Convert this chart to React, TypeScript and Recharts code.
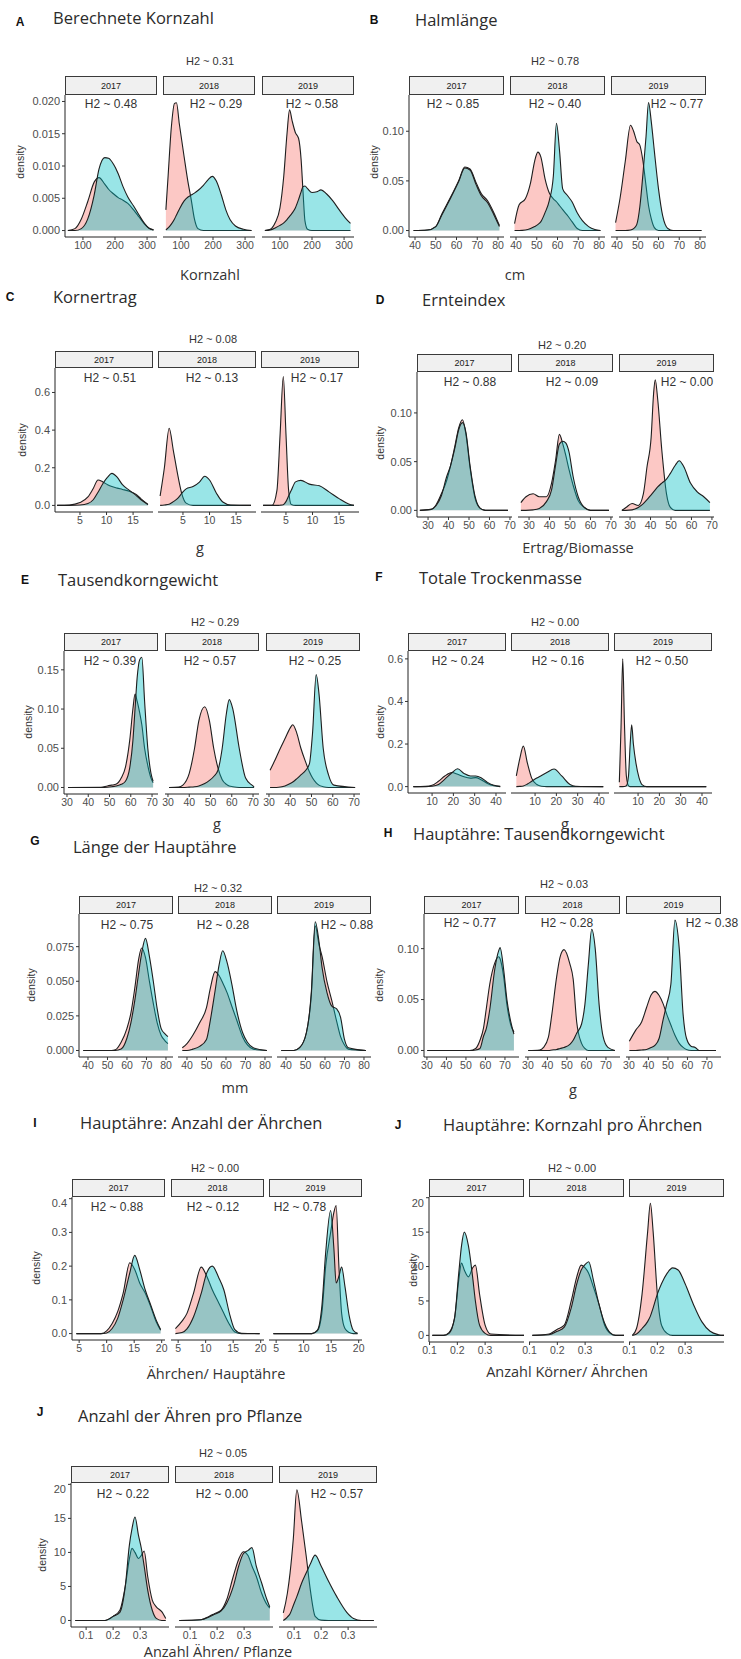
import React from "react";
import { AreaChart, Area, XAxis, YAxis } from "recharts";

// each row: [x, pink density, cyan density]
type Row = [number, number, number];

const YEARS = ["2017", "2018", "2019"];

// A – Berechnete Kornzahl
const A_2017: Row[] = [
  [53, 0, 0], [75, 0.0003, 0], [95, 0.0018, 0.0003], [115, 0.0045, 0.0018], [135, 0.0075, 0.0055],
  [150, 0.0082, 0.0095], [168, 0.0072, 0.0113], [180, 0.0064, 0.0112], [195, 0.0057, 0.0103],
  [210, 0.0051, 0.0088], [225, 0.0047, 0.0068], [240, 0.0042, 0.0052], [258, 0.0032, 0.0038],
  [275, 0.0021, 0.0024], [292, 0.001, 0.0011], [305, 0.0004, 0.0004], [320, 0.0001, 0.0001],
];
const A_2018: Row[] = [
  [53, 0.0032, 0.0001], [60, 0.0085, 0.0004], [70, 0.016, 0.001], [80, 0.0197, 0.0018], [86, 0.0198, 0.0024],
  [95, 0.0165, 0.0033], [110, 0.0114, 0.0046], [122, 0.0075, 0.0052], [132, 0.0048, 0.0055],
  [142, 0.0018, 0.0058], [153, 0.0003, 0.0062], [170, 0, 0.007], [185, 0, 0.0079], [198, 0, 0.0084],
  [210, 0, 0.0077], [226, 0, 0.0055], [240, 0, 0.0032], [253, 0, 0.0017], [270, 0, 0.0007],
  [295, 0, 0.0002], [320, 0, 0],
];
const A_2019: Row[] = [
  [53, 0, 0], [70, 0.0002, 0.0001], [85, 0.0012, 0.0004], [100, 0.0035, 0.0008], [112, 0.0085, 0.0012],
  [122, 0.015, 0.0017], [130, 0.0187, 0.0022], [138, 0.017, 0.0027], [148, 0.0152, 0.0035],
  [158, 0.0143, 0.0048], [166, 0.011, 0.006], [172, 0.006, 0.0068], [178, 0.0015, 0.0069],
  [186, 0.0002, 0.0065], [200, 0, 0.0059], [215, 0, 0.006], [228, 0, 0.0063], [245, 0, 0.0057],
  [265, 0, 0.0046], [285, 0, 0.0032], [305, 0, 0.0019], [320, 0, 0.0011],
];

// B – Halmlänge
const B_2017: Row[] = [
  [39.3, 0, 0], [46, 0.0005, 0.0005], [50, 0.004, 0.004], [53, 0.017, 0.016], [57, 0.033, 0.032],
  [61, 0.05, 0.049], [64, 0.064, 0.063], [66.5, 0.062, 0.061], [69.5, 0.048, 0.046], [72, 0.037, 0.035],
  [75, 0.03, 0.028], [78, 0.018, 0.016], [80.7, 0.005, 0.004],
];
const B_2018: Row[] = [
  [39.3, 0.007, 0], [41.5, 0.026, 0], [44.5, 0.032, 0.0005], [47, 0.048, 0.002], [49, 0.07, 0.004],
  [50.5, 0.079, 0.006], [52, 0.074, 0.009], [54, 0.052, 0.018], [56, 0.038, 0.03], [58, 0.032, 0.055],
  [59.5, 0.029, 0.108], [61, 0.025, 0.08], [62.5, 0.021, 0.042], [64.5, 0.016, 0.036], [67, 0.009, 0.029],
  [69.5, 0.002, 0.018], [72, 0, 0.01], [75, 0, 0.004], [78, 0, 0.001], [80.7, 0, 0],
];
const B_2019: Row[] = [
  [39.3, 0.008, 0], [41.5, 0.033, 0], [44, 0.07, 0], [46.5, 0.106, 0.0005], [48, 0.1, 0.002],
  [49.5, 0.09, 0.006], [51, 0.086, 0.024], [52.5, 0.07, 0.057], [54, 0.045, 0.095], [55.2, 0.025, 0.129],
  [56.5, 0.012, 0.11], [58, 0.003, 0.08], [60, 0, 0.042], [62, 0, 0.015], [64.5, 0, 0.002],
  [67, 0, 0], [80.7, 0, 0],
];

// C – Kornertrag
const C_2017: Row[] = [
  [0.7, 0, 0], [3, 0.002, 0], [5, 0.015, 0.002], [6.5, 0.045, 0.01], [7.5, 0.09, 0.03], [8.4, 0.135, 0.07],
  [9.3, 0.125, 0.115], [10.2, 0.11, 0.15], [11, 0.1, 0.17], [12, 0.092, 0.15], [13, 0.085, 0.11],
  [14.3, 0.075, 0.08], [15.5, 0.06, 0.055], [16.5, 0.035, 0.03], [17.8, 0.005, 0.005],
];
const C_2018: Row[] = [
  [0.7, 0.05, 0], [1.5, 0.2, 0.002], [2.4, 0.41, 0.006], [3.2, 0.29, 0.02], [4.1, 0.15, 0.04],
  [4.8, 0.06, 0.065], [5.6, 0.012, 0.088], [6.9, 0, 0.1], [8.1, 0, 0.124], [9.1, 0, 0.155],
  [10, 0, 0.135], [11.3, 0, 0.065], [12.5, 0, 0.018], [14, 0, 0.002], [17.8, 0, 0],
];
const C_2019: Row[] = [
  [0.7, 0, 0], [2.4, 0.001, 0], [3.3, 0.08, 0], [3.9, 0.38, 0.001], [4.5, 0.685, 0.004], [5.0, 0.38, 0.02],
  [5.5, 0.08, 0.05], [6.0, 0.005, 0.08], [6.8, 0, 0.125], [7.8, 0, 0.133], [9.4, 0, 0.113],
  [11.3, 0, 0.104], [13.1, 0, 0.072], [15, 0, 0.036], [16.8, 0, 0.008], [17.8, 0, 0.001],
];

// D – Ernteindex
const D_2017: Row[] = [
  [26, 0, 0], [31.5, 0.001, 0.001], [34, 0.006, 0.005], [36.5, 0.017, 0.015], [39, 0.03, 0.034],
  [41, 0.046, 0.046], [43, 0.065, 0.063], [45, 0.085, 0.083], [46.8, 0.093, 0.09], [48.5, 0.078, 0.08],
  [50.5, 0.044, 0.046], [53, 0.012, 0.014], [55.5, 0.002, 0.002], [58, 0, 0], [69, 0, 0],
];
const D_2018: Row[] = [
  [26, 0.008, 0], [28.5, 0.014, 0], [32, 0.017, 0.0005], [35, 0.014, 0.002], [38.5, 0.014, 0.009],
  [41, 0.028, 0.021], [43, 0.052, 0.047], [44.8, 0.078, 0.068], [46.5, 0.068, 0.071], [48, 0.056, 0.069],
  [49.5, 0.042, 0.06], [51.5, 0.026, 0.035], [54, 0.01, 0.014], [57, 0.003, 0.003], [60, 0, 0], [69, 0, 0],
];
const D_2019: Row[] = [
  [26, 0, 0], [28, 0.003, 0], [31, 0.007, 0.0005], [34, 0.005, 0.003], [36.5, 0.017, 0.007],
  [38.3, 0.045, 0.011], [40.3, 0.075, 0.016], [41.5, 0.12, 0.019], [42.3, 0.134, 0.021],
  [43.5, 0.114, 0.024], [45.5, 0.062, 0.028], [47.8, 0.017, 0.032], [49.7, 0.003, 0.038],
  [52, 0, 0.046], [54, 0, 0.051], [56.2, 0, 0.045], [59.5, 0, 0.028], [62.8, 0, 0.019],
  [66, 0, 0.014], [69, 0, 0.008],
];

// E – Tausendkorngewicht
const E_2017: Row[] = [
  [30.5, 0, 0], [46, 0.0003, 0], [49, 0.002, 0.0003], [51, 0.003, 0.001], [53, 0.004, 0.002],
  [55.5, 0.012, 0.004], [57.5, 0.026, 0.008], [59.5, 0.06, 0.025], [61, 0.1, 0.06], [62, 0.119, 0.1],
  [63, 0.11, 0.14], [64.2, 0.095, 0.163], [65.2, 0.08, 0.166], [66.5, 0.05, 0.11], [68, 0.028, 0.05],
  [69.5, 0.012, 0.018], [70.5, 0.006, 0.008],
];
const E_2018: Row[] = [
  [30.5, 0, 0], [35, 0.0005, 0], [37, 0.003, 0], [40, 0.018, 0.0005], [42.5, 0.05, 0.001],
  [44.5, 0.085, 0.002], [47.3, 0.103, 0.005], [49.5, 0.085, 0.009], [51.5, 0.05, 0.014],
  [53.5, 0.025, 0.022], [55.5, 0.01, 0.05], [57.5, 0.004, 0.095], [58.8, 0.002, 0.112],
  [60.5, 0.001, 0.1], [63.5, 0, 0.05], [66.5, 0, 0.012], [69.5, 0, 0.003], [70.5, 0, 0.001],
];
const E_2019: Row[] = [
  [30.5, 0.022, 0], [32.5, 0.033, 0], [34.5, 0.045, 0.0003], [37.5, 0.062, 0.002], [40, 0.076, 0.005],
  [41.2, 0.08, 0.007], [43, 0.07, 0.011], [45, 0.05, 0.016], [47.3, 0.032, 0.022], [49, 0.02, 0.03],
  [50.5, 0.012, 0.07], [52.2, 0.006, 0.144], [53.5, 0.003, 0.12], [55.5, 0.001, 0.05], [58, 0, 0.016],
  [60.5, 0, 0.003], [70.5, 0, 0],
];

// F – Totale Trockenmasse
const F_2017: Row[] = [
  [1.2, 0, 0], [7, 0.001, 0], [10, 0.006, 0.002], [13, 0.025, 0.01], [16, 0.05, 0.035], [19.3, 0.066, 0.065],
  [22, 0.058, 0.084], [25, 0.046, 0.062], [28, 0.04, 0.05], [30.5, 0.042, 0.05], [33, 0.032, 0.042],
  [36, 0.015, 0.02], [39, 0.004, 0.006], [42, 0, 0.001],
];
const F_2018: Row[] = [
  [1.2, 0.05, 0], [2.8, 0.13, 0.001], [4.5, 0.19, 0.003], [6.4, 0.11, 0.012], [8.4, 0.04, 0.025],
  [10.8, 0.01, 0.04], [13, 0.002, 0.052], [15.5, 0, 0.066], [18.9, 0, 0.083], [22.5, 0, 0.05],
  [26.4, 0, 0.01], [29, 0, 0.002], [42, 0, 0],
];
const F_2019: Row[] = [
  [1.2, 0.02, 0], [2, 0.28, 0], [2.8, 0.6, 0], [3.6, 0.3, 0.0005], [4.5, 0.05, 0.004], [5.5, 0.005, 0.05],
  [6.3, 0, 0.2], [7, 0, 0.29], [7.8, 0, 0.2], [9, 0, 0.11], [10.5, 0, 0.04], [12, 0, 0.008],
  [14, 0, 0], [42, 0, 0],
];

// G – Länge der Hauptähre
const G_2017: Row[] = [
  [37.6, 0, 0], [52, 0, 0], [54, 0.0005, 0], [57, 0.006, 0.001], [60, 0.016, 0.009], [62, 0.027, 0.02],
  [64, 0.045, 0.036], [66, 0.066, 0.056], [67.5, 0.074, 0.07], [69.5, 0.067, 0.081], [71.5, 0.05, 0.068],
  [73.5, 0.034, 0.05], [75.5, 0.02, 0.03], [77.5, 0.011, 0.016], [79.5, 0.007, 0.012], [81, 0.005, 0.01],
];
const G_2018: Row[] = [
  [37.6, 0.002, 0], [40, 0.005, 0], [43, 0.011, 0.001], [46.5, 0.02, 0.003], [50, 0.031, 0.008],
  [52, 0.045, 0.022], [54.4, 0.057, 0.043], [56.5, 0.054, 0.062], [58.3, 0.049, 0.072],
  [60.5, 0.042, 0.064], [63, 0.032, 0.048], [65.5, 0.022, 0.029], [68.5, 0.01, 0.013],
  [71, 0.004, 0.006], [74, 0.001, 0.002], [81, 0, 0],
];
const G_2019: Row[] = [
  [37.6, 0, 0], [44, 0, 0], [47, 0.002, 0.002], [50.5, 0.013, 0.013], [53, 0.04, 0.042], [55, 0.09, 0.093],
  [57, 0.076, 0.078], [58.5, 0.068, 0.06], [61, 0.05, 0.042], [63.5, 0.036, 0.032], [66, 0.021, 0.03],
  [68, 0.01, 0.024], [70, 0.004, 0.008], [72, 0.001, 0.002], [81, 0, 0],
];

// H – Hauptähre: Tausendkorngewicht
const H_2017: Row[] = [
  [30.2, 0, 0], [52, 0, 0], [55, 0.002, 0.0005], [57.2, 0.01, 0.002], [59, 0.022, 0.014],
  [60.5, 0.042, 0.022], [62.2, 0.065, 0.04], [64.8, 0.086, 0.08], [66.8, 0.092, 0.098],
  [67.5, 0.09, 0.101], [69.3, 0.073, 0.08], [71, 0.045, 0.05], [73, 0.025, 0.028], [74.6, 0.018, 0.016],
];
const H_2018: Row[] = [
  [30.2, 0, 0], [36, 0.0005, 0], [38, 0.003, 0], [40.5, 0.013, 0], [42.3, 0.036, 0.0005],
  [44.7, 0.072, 0.001], [46.5, 0.092, 0.002], [48.5, 0.099, 0.003], [51.5, 0.085, 0.006],
  [53.2, 0.07, 0.01], [55, 0.028, 0.017], [57.5, 0.007, 0.026], [59.2, 0.002, 0.045], [61, 0, 0.085],
  [62.7, 0, 0.119], [64.5, 0, 0.1], [66.5, 0, 0.045], [68.5, 0, 0.014], [71, 0, 0.003], [74.6, 0, 0],
];
const H_2019: Row[] = [
  [30.2, 0.009, 0], [33.5, 0.02, 0], [36.5, 0.028, 0.0005], [39, 0.042, 0.001], [41.5, 0.055, 0.003],
  [43.3, 0.058, 0.005], [45.5, 0.054, 0.012], [47.5, 0.046, 0.03], [49.3, 0.036, 0.045],
  [51.5, 0.025, 0.065], [53.6, 0.015, 0.128], [55.8, 0.007, 0.1], [57.8, 0.003, 0.035],
  [59.5, 0.001, 0.012], [62, 0, 0.004], [64, 0, 0.003], [66, 0, 0], [74.6, 0, 0],
];

// I – Hauptähre: Anzahl der Ährchen
const I_2017: Row[] = [
  [4.5, 0, 0], [9, 0, 0], [10, 0.008, 0.002], [11, 0.03, 0.015], [12, 0.065, 0.045], [13, 0.12, 0.1],
  [14.2, 0.21, 0.18], [15.1, 0.19, 0.232], [16, 0.15, 0.19], [17, 0.12, 0.13], [18, 0.08, 0.085],
  [19, 0.035, 0.04], [19.8, 0.01, 0.012],
];
const I_2018: Row[] = [
  [4.5, 0.015, 0], [5.7, 0.037, 0.003], [6.6, 0.06, 0.014], [7.8, 0.12, 0.05], [9.2, 0.197, 0.12],
  [10.2, 0.17, 0.18], [11.2, 0.13, 0.2], [12.4, 0.09, 0.165], [13.3, 0.06, 0.13], [14.4, 0.025, 0.055],
  [15.3, 0.005, 0.012], [16.5, 0, 0.001], [19.8, 0, 0],
];
const I_2019: Row[] = [
  [4.5, 0, 0], [11.5, 0, 0], [12.5, 0.008, 0.01], [13.3, 0.06, 0.08], [14, 0.2, 0.24], [14.9, 0.3, 0.365],
  [15.5, 0.36, 0.25], [15.9, 0.38, 0.15], [16.4, 0.2, 0.17], [16.9, 0.06, 0.197], [17.5, 0.015, 0.14],
  [18.3, 0.003, 0.05], [19, 0, 0.01], [19.8, 0, 0.001],
];

// J – Hauptähre: Kornzahl pro Ährchen
const J1_2017: Row[] = [
  [0.11, 0, 0], [0.15, 0, 0], [0.17, 0.4, 0.3], [0.19, 2.5, 2.5], [0.205, 8, 9], [0.215, 10.5, 13],
  [0.225, 9.5, 15], [0.24, 8.5, 13], [0.255, 9.8, 8.5], [0.265, 10.2, 5], [0.28, 6, 1.5],
  [0.3, 1.5, 0.3], [0.32, 0.2, 0], [0.44, 0, 0],
];
const J1_2018: Row[] = [
  [0.11, 0, 0], [0.17, 0.2, 0.1], [0.2, 0.9, 0.6], [0.225, 1.5, 1.2], [0.25, 5, 4], [0.27, 8.5, 7.5],
  [0.286, 10.2, 9.5], [0.3, 9.8, 10.3], [0.313, 9, 10.7], [0.33, 7, 8], [0.35, 4.5, 4.5],
  [0.37, 1.5, 1.8], [0.39, 0.3, 0.4], [0.41, 0, 0], [0.44, 0, 0],
];
const J1_2019: Row[] = [
  [0.11, 0, 0], [0.125, 1, 0.2], [0.145, 6, 1], [0.165, 15, 2], [0.175, 19.2, 2.8], [0.185, 15, 4],
  [0.2, 6, 6], [0.215, 1.5, 7.5], [0.235, 0.3, 9], [0.255, 0, 9.8], [0.275, 0, 9.5], [0.3, 0, 7.5],
  [0.33, 0, 4.5], [0.36, 0, 2], [0.39, 0, 0.6], [0.42, 0, 0.1], [0.44, 0, 0],
];

// J – Anzahl der Ähren pro Pflanze
const J2_2017: Row[] = [
  [0.06, 0, 0], [0.17, 0, 0], [0.2, 0.6, 0.6], [0.225, 1.5, 1.2], [0.245, 5, 5], [0.26, 9, 11],
  [0.27, 10.6, 13.5], [0.281, 10, 15.2], [0.294, 9.1, 12.5], [0.305, 9.6, 10.5], [0.315, 10.2, 8],
  [0.328, 6.5, 4.5], [0.345, 3, 1.5], [0.36, 2, 0.3], [0.38, 1.3, 0], [0.395, 0.3, 0],
];
const J2_2018: Row[] = [
  [0.06, 0, 0], [0.14, 0.1, 0.1], [0.17, 0.6, 0.5], [0.19, 1, 0.9], [0.215, 1.5, 1.4], [0.235, 3, 2.5],
  [0.26, 6.5, 5], [0.28, 9, 8], [0.297, 10.1, 9.8], [0.315, 9.5, 10.3], [0.329, 8, 10.7],
  [0.345, 6.5, 8], [0.365, 4, 5.5], [0.385, 2.3, 3], [0.395, 1.8, 2],
];
const J2_2019: Row[] = [
  [0.06, 1.1, 0], [0.075, 4, 0.5], [0.085, 7, 1], [0.097, 12, 2.2], [0.11, 19.2, 3.5], [0.128, 14.5, 5.5],
  [0.145, 9.4, 7], [0.16, 4.5, 8.3], [0.178, 0.6, 9.6], [0.2, 0.05, 8], [0.227, 0, 5.8],
  [0.258, 0, 3.5], [0.295, 0, 1.2], [0.32, 0, 0.3], [0.35, 0, 0], [0.395, 0, 0],
];

const SANS = "'Liberation Sans', Arial, sans-serif";
const TITLE_FONT = "'Open Sans', sans-serif";

interface Panel {
  letter: string; letterAt: [number, number];
  title: string; titleAt: [number, number];
  h2: string; h2At: [number, number];
  strip: [number, number];
  lefts: number[]; w: number; axisY: number;
  xDomain: [number, number]; xTicks: number[];
  yDomain: [number, number]; yTicks: number[]; yDigits: number;
  densityAt: [number, number];
  facetH2: string[]; facetH2X: number[]; facetH2Y: number;
  xTitle: string; xTitleAt: [number, number];
  data: Row[][];
}

const PANELS: Panel[] = [
  {
    letter: "A", letterAt: [20, 22], title: "Berechnete Kornzahl", titleAt: [53, 18],
    h2: "H2 ~ 0.31", h2At: [210, 61], strip: [76, 95], lefts: [65, 163, 262], w: 92, axisY: 237,
    xDomain: [44, 331], xTicks: [100, 200, 300], yDomain: [-0.001, 0.021],
    yTicks: [0, 0.005, 0.01, 0.015, 0.02], yDigits: 3, densityAt: [20, 162],
    facetH2: ["H2 ~ 0.48", "H2 ~ 0.29", "H2 ~ 0.58"], facetH2X: [111, 216, 312], facetH2Y: 104,
    xTitle: "Kornzahl", xTitleAt: [210, 275], data: [A_2017, A_2018, A_2019],
  },
  {
    letter: "B", letterAt: [374, 20], title: "Halmlänge", titleAt: [415, 20],
    h2: "H2 ~ 0.78", h2At: [555, 61], strip: [76, 95], lefts: [409, 510, 611], w: 95, axisY: 237,
    xDomain: [37.1, 82.9], xTicks: [40, 50, 60, 70, 80], yDomain: [-0.0065, 0.1365],
    yTicks: [0, 0.05, 0.1], yDigits: 2, densityAt: [374, 162],
    facetH2: ["H2 ~ 0.85", "H2 ~ 0.40", "H2 ~ 0.77"], facetH2X: [453, 555, 677], facetH2Y: 104,
    xTitle: "cm", xTitleAt: [515, 275], data: [B_2017, B_2018, B_2019],
  },
  {
    letter: "C", letterAt: [10, 297], title: "Kornertrag", titleAt: [53, 297],
    h2: "H2 ~ 0.08", h2At: [213, 339], strip: [351, 368], lefts: [55, 158, 261], w: 98, axisY: 512,
    xDomain: [0.3, 18.75], xTicks: [5, 10, 15], yDomain: [-0.035, 0.73],
    yTicks: [0, 0.2, 0.4, 0.6], yDigits: 1, densityAt: [22, 440],
    facetH2: ["H2 ~ 0.51", "H2 ~ 0.13", "H2 ~ 0.17"], facetH2X: [110, 212, 317], facetH2Y: 378,
    xTitle: "g", xTitleAt: [200, 548], data: [C_2017, C_2018, C_2019],
  },
  {
    letter: "D", letterAt: [380, 300], title: "Ernteindex", titleAt: [422, 300],
    h2: "H2 ~ 0.20", h2At: [562, 345], strip: [354, 372], lefts: [417, 518, 619], w: 95, axisY: 517,
    xDomain: [24.6, 71], xTicks: [30, 40, 50, 60, 70], yDomain: [-0.0068, 0.142],
    yTicks: [0, 0.05, 0.1], yDigits: 2, densityAt: [380, 443],
    facetH2: ["H2 ~ 0.88", "H2 ~ 0.09", "H2 ~ 0.00"], facetH2X: [470, 572, 687], facetH2Y: 382,
    xTitle: "Ertrag/Biomasse", xTitleAt: [578, 548], data: [D_2017, D_2018, D_2019],
  },
  {
    letter: "E", letterAt: [25, 580], title: "Tausendkorngewicht", titleAt: [58, 580],
    h2: "H2 ~ 0.29", h2At: [215, 622], strip: [633, 651], lefts: [64, 165, 266], w: 94, axisY: 794,
    xDomain: [28.6, 72.8], xTicks: [30, 40, 50, 60, 70], yDomain: [-0.0083, 0.174],
    yTicks: [0, 0.05, 0.1, 0.15], yDigits: 2, densityAt: [28, 722],
    facetH2: ["H2 ~ 0.39", "H2 ~ 0.57", "H2 ~ 0.25"], facetH2X: [110, 210, 315], facetH2Y: 661,
    xTitle: "g", xTitleAt: [217, 824], data: [E_2017, E_2018, E_2019],
  },
  {
    letter: "F", letterAt: [379, 577], title: "Totale Trockenmasse", titleAt: [419, 578],
    h2: "H2 ~ 0.00", h2At: [555, 622], strip: [633, 651], lefts: [408, 511, 614], w: 98, axisY: 793,
    xDomain: [-1.3, 44.7], xTicks: [10, 20, 30, 40], yDomain: [-0.03, 0.637],
    yTicks: [0, 0.2, 0.4, 0.6], yDigits: 1, densityAt: [380, 722],
    facetH2: ["H2 ~ 0.24", "H2 ~ 0.16", "H2 ~ 0.50"], facetH2X: [458, 558, 662], facetH2Y: 661,
    xTitle: "g", xTitleAt: [565, 824], data: [F_2017, F_2018, F_2019],
  },
  {
    letter: "G", letterAt: [35, 841], title: "Länge der Hauptähre", titleAt: [73, 847],
    h2: "H2 ~ 0.32", h2At: [218, 888], strip: [896, 914], lefts: [79, 178, 277], w: 94, axisY: 1057,
    xDomain: [35.4, 83.6], xTicks: [40, 50, 60, 70, 80], yDomain: [-0.0047, 0.0986],
    yTicks: [0, 0.025, 0.05, 0.075], yDigits: 3, densityAt: [31, 985],
    facetH2: ["H2 ~ 0.75", "H2 ~ 0.28", "H2 ~ 0.88"], facetH2X: [127, 223, 347], facetH2Y: 925,
    xTitle: "mm", xTitleAt: [235, 1088], data: [G_2017, G_2018, G_2019],
  },
  {
    letter: "H", letterAt: [388, 833], title: "Hauptähre: Tausendkorngewicht", titleAt: [413, 834],
    h2: "H2 ~ 0.03", h2At: [564, 884], strip: [896, 914], lefts: [424, 525, 626], w: 95, axisY: 1057,
    xDomain: [28.5, 77.2], xTicks: [30, 40, 50, 60, 70], yDomain: [-0.0064, 0.134],
    yTicks: [0, 0.05, 0.1], yDigits: 2, densityAt: [379, 985],
    facetH2: ["H2 ~ 0.77", "H2 ~ 0.28", "H2 ~ 0.38"], facetH2X: [470, 567, 712], facetH2Y: 923,
    xTitle: "g", xTitleAt: [573, 1090], data: [H_2017, H_2018, H_2019],
  },
  {
    letter: "I", letterAt: [35, 1123], title: "Hauptähre: Anzahl der Ährchen", titleAt: [80, 1123],
    h2: "H2 ~ 0.00", h2At: [215, 1168], strip: [1179, 1197], lefts: [72, 171, 269], w: 93, axisY: 1340,
    xDomain: [3.7, 20.6], xTicks: [5, 10, 15, 20], yDomain: [-0.019, 0.405],
    yTicks: [0, 0.1, 0.2, 0.3, 0.4], yDigits: 1, densityAt: [36, 1268],
    facetH2: ["H2 ~ 0.88", "H2 ~ 0.12", "H2 ~ 0.78"], facetH2X: [117, 213, 300], facetH2Y: 1207,
    xTitle: "Ährchen/ Hauptähre", xTitleAt: [216, 1374], data: [I_2017, I_2018, I_2019],
  },
  {
    letter: "J", letterAt: [398, 1125], title: "Hauptähre: Kornzahl pro Ährchen", titleAt: [443, 1125],
    h2: "H2 ~ 0.00", h2At: [572, 1168], strip: [1179, 1197], lefts: [429, 529, 629], w: 95, axisY: 1342,
    xDomain: [0.098, 0.44], xTicks: [0.1, 0.2, 0.3], yDomain: [-0.96, 20.1],
    yTicks: [0, 5, 10, 15, 20], yDigits: 0, densityAt: [413, 1270],
    facetH2: [], facetH2X: [], facetH2Y: 0,
    xTitle: "Anzahl Körner/ Ährchen", xTitleAt: [567, 1372], data: [J1_2017, J1_2018, J1_2019],
  },
  {
    letter: "J", letterAt: [40, 1412], title: "Anzahl der Ähren pro Pflanze", titleAt: [78, 1416],
    h2: "H2 ~ 0.05", h2At: [223, 1453], strip: [1466, 1483], lefts: [71, 175, 279], w: 98, axisY: 1627,
    xDomain: [0.044, 0.407], xTicks: [0.1, 0.2, 0.3], yDomain: [-0.96, 20.2],
    yTicks: [0, 5, 10, 15, 20], yDigits: 0, densityAt: [42, 1555],
    facetH2: ["H2 ~ 0.22", "H2 ~ 0.00", "H2 ~ 0.57"], facetH2X: [123, 222, 337], facetH2Y: 1494,
    xTitle: "Anzahl Ähren/ Pflanze", xTitleAt: [218, 1652], data: [J2_2017, J2_2018, J2_2019],
  },
];

function Txt({ x, y, children, size, family = SANS, color = "#333", weight = 400, anchor = "middle", rotate = false }: any) {
  const tx = anchor === "middle" ? "-50%" : "0";
  return (
    <div style={{
      position: "absolute", left: x, top: y, whiteSpace: "nowrap", lineHeight: 1,
      transform: `translate(${rotate ? "-50%" : tx}, -50%)${rotate ? " rotate(-90deg)" : ""}`,
      fontSize: size, fontFamily: family, color, fontWeight: weight,
    }}>{children}</div>
  );
}

function Facet({ p, i }: { p: Panel; i: number }) {
  const first = i === 0;
  const padL = first ? 44 : 14;
  const padR = 14;
  const plotH = p.axisY - p.strip[1];
  const rows = p.data[i].map(([x, pink, cyan]) => ({ x, pink, cyan }));
  const tickStyle = { fontSize: 10.5, fill: "#4D4D4D", fontFamily: SANS };
  return (
    <div style={{ position: "absolute", left: p.lefts[i] - padL, top: p.strip[1] }}>
      <AreaChart width={p.w + padL + padR} height={plotH + 22} data={rows}
        margin={{ top: 0, right: padR, bottom: 0, left: first ? 0 : padL }}>
        <XAxis type="number" dataKey="x" domain={p.xDomain} ticks={p.xTicks} allowDataOverflow interval={0}
          height={22} tickSize={3} axisLine={{ stroke: "#222" }} tickLine={{ stroke: "#333" }} tick={tickStyle} />
        <YAxis type="number" domain={p.yDomain} ticks={p.yTicks} allowDataOverflow hide={!first} width={padL}
          tickSize={3} axisLine={{ stroke: "#222" }} tickLine={{ stroke: "#333" }}
          tick={{ ...tickStyle, fontSize: 11 }} tickFormatter={(v: number) => v.toFixed(p.yDigits)} />
        <Area type="monotone" dataKey="pink" fill="#F8766D" fillOpacity={0.4} stroke="#1e1e1e" strokeWidth={1.1}
          isAnimationActive={false} />
        <Area type="monotone" dataKey="cyan" fill="#00BFC4" fillOpacity={0.4} stroke="#1e1e1e" strokeWidth={1.1}
          isAnimationActive={false} />
      </AreaChart>
    </div>
  );
}

function PanelView({ p }: { p: Panel }) {
  return (
    <>
      <Txt x={p.letterAt[0]} y={p.letterAt[1]} size={12} weight={700} color="#111">{p.letter}</Txt>
      <Txt x={p.titleAt[0]} y={p.titleAt[1]} size={16.5} family={TITLE_FONT} color="#2b2b2b" anchor="start">{p.title}</Txt>
      <Txt x={p.h2At[0]} y={p.h2At[1]} size={11} color="#333">{p.h2}</Txt>
      {YEARS.map((yr, i) => (
        <div key={yr} style={{
          position: "absolute", left: p.lefts[i], top: p.strip[0], width: p.w, height: p.strip[1] - p.strip[0],
          boxSizing: "border-box", border: "1.2px solid #3a3a3a", background: "#F0F0F0",
          display: "flex", alignItems: "center", justifyContent: "center",
          fontSize: 9, fontFamily: SANS, color: "#1a1a1a",
        }}>{yr}</div>
      ))}
      {YEARS.map((yr, i) => <Facet key={yr} p={p} i={i} />)}
      {p.facetH2.map((t, i) => (
        <Txt key={i} x={p.facetH2X[i]} y={p.facetH2Y} size={12} color="#333">{t}</Txt>
      ))}
      <Txt x={p.densityAt[0]} y={p.densityAt[1]} size={10.5} color="#333" rotate>density</Txt>
      <Txt x={p.xTitleAt[0]} y={p.xTitleAt[1]} size={14.5} family={TITLE_FONT} color="#333">{p.xTitle}</Txt>
    </>
  );
}

export default function App() {
  return (
    <div style={{ position: "absolute", left: 0, top: 0, width: 741, height: 1659, overflow: "hidden", background: "#fff" }}>
      {PANELS.map((p, k) => <PanelView key={k} p={p} />)}
    </div>
  );
}
